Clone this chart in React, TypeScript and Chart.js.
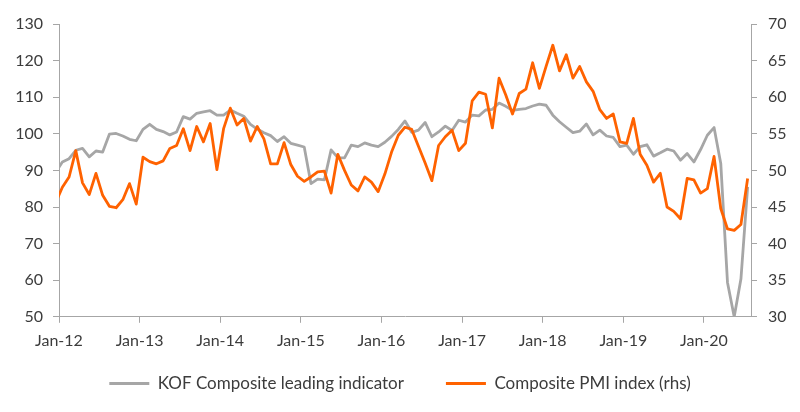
import { useEffect, useRef } from 'react';
import Chart from 'chart.js/auto';

// Monthly categories; Dec-11 sits just outside the visible range so the line enters from the axis
const months = [
  'Dec-11',
  'Jan-12', 'Feb-12', 'Mar-12', 'Apr-12', 'May-12', 'Jun-12', 'Jul-12', 'Aug-12', 'Sep-12', 'Oct-12', 'Nov-12', 'Dec-12',
  'Jan-13', 'Feb-13', 'Mar-13', 'Apr-13', 'May-13', 'Jun-13', 'Jul-13', 'Aug-13', 'Sep-13', 'Oct-13', 'Nov-13', 'Dec-13',
  'Jan-14', 'Feb-14', 'Mar-14', 'Apr-14', 'May-14', 'Jun-14', 'Jul-14', 'Aug-14', 'Sep-14', 'Oct-14', 'Nov-14', 'Dec-14',
  'Jan-15', 'Feb-15', 'Mar-15', 'Apr-15', 'May-15', 'Jun-15', 'Jul-15', 'Aug-15', 'Sep-15', 'Oct-15', 'Nov-15', 'Dec-15',
  'Jan-16', 'Feb-16', 'Mar-16', 'Apr-16', 'May-16', 'Jun-16', 'Jul-16', 'Aug-16', 'Sep-16', 'Oct-16', 'Nov-16', 'Dec-16',
  'Jan-17', 'Feb-17', 'Mar-17', 'Apr-17', 'May-17', 'Jun-17', 'Jul-17', 'Aug-17', 'Sep-17', 'Oct-17', 'Nov-17', 'Dec-17',
  'Jan-18', 'Feb-18', 'Mar-18', 'Apr-18', 'May-18', 'Jun-18', 'Jul-18', 'Aug-18', 'Sep-18', 'Oct-18', 'Nov-18', 'Dec-18',
  'Jan-19', 'Feb-19', 'Mar-19', 'Apr-19', 'May-19', 'Jun-19', 'Jul-19', 'Aug-19', 'Sep-19', 'Oct-19', 'Nov-19', 'Dec-19',
  'Jan-20', 'Feb-20', 'Mar-20', 'Apr-20', 'May-20', 'Jun-20', 'Jul-20',
];

// KOF Composite leading indicator (left axis)
const kofIndicator = [
  89.5,
  92.3, 93.2, 95.5, 96.0, 93.7, 95.3, 95.0, 99.9, 100.1, 99.4, 98.5, 98.1,
  101.2, 102.6, 101.2, 100.6, 99.7, 100.5, 104.7, 104.0, 105.6, 106.0, 106.3, 105.1,
  105.1, 106.5, 105.6, 104.8, 102.6, 101.3, 100.3, 99.5, 97.9, 99.2, 97.4, 96.9,
  96.4, 86.4, 87.6, 87.4, 95.6, 93.5, 93.4, 96.9, 96.5, 97.5, 96.9, 96.5,
  97.7, 99.3, 101.2, 103.5, 100.4, 101.0, 103.1, 99.2, 100.5, 102.1, 100.9, 103.7,
  103.2, 105.1, 104.9, 106.5, 106.7, 108.4, 107.5, 106.4, 106.7, 106.9, 107.6, 108.1,
  107.8, 105.1, 103.3, 101.8, 100.3, 100.7, 102.7, 99.7, 101.0, 99.4, 99.0, 96.5,
  96.9, 94.4, 96.5, 97.0, 93.9, 94.8, 95.8, 95.3, 92.8, 94.6, 92.3, 95.7,
  99.6, 101.7, 91.9, 59.4, 50.0, 60.3, 85.5,
];

// Composite PMI index (right axis)
const compositePmi = [
  45.6,
  47.7, 49.1, 52.7, 48.3, 46.7, 49.6, 46.6, 45.1, 44.9, 46.0, 48.2, 45.4,
  51.8, 51.2, 50.9, 51.3, 53.0, 53.4, 55.7, 52.7, 56.0, 53.9, 56.4, 50.1,
  55.7, 58.5, 56.2, 57.1, 54.0, 56.0, 54.3, 50.9, 50.9, 53.8, 50.8, 49.2,
  48.5, 49.1, 49.8, 49.9, 46.9, 52.2, 50.0, 48.0, 47.2, 49.1, 48.4, 47.1,
  49.5, 52.5, 54.8, 55.9, 55.6, 53.3, 51.0, 48.6, 53.4, 54.6, 55.5, 52.7,
  53.7, 59.5, 60.7, 60.4, 55.8, 62.6, 60.3, 57.7, 60.5, 61.1, 64.7, 61.2,
  64.2, 67.1, 63.6, 65.8, 62.6, 64.2, 62.1, 60.8, 58.3, 57.1, 57.7, 53.9,
  53.7, 57.1, 52.2, 50.7, 48.4, 49.6, 45.0, 44.4, 43.4, 48.9, 48.7, 46.9,
  47.5, 51.9, 44.8, 42.0, 41.8, 42.6, 48.9,
];

const leftAxis = { min: 50, max: 130, step: 10 };
const rightAxis = { min: 30, max: 70, step: 5 };

const textColor = '#3c3c3c';
const axisColor = '#a6a6a6';
const kofColor = '#a6a6a6';
const pmiColor = '#ff6200';

// the legend keeps its wide item gap but sits closer to the axis labels
const LEGEND_SHRINK = 18;
const LEGEND_LIFT = 25;
const legendNudge = {
  id: 'legendNudge',
  afterInit(chart: any) {
    const legend = chart.legend;
    if (!legend) return;
    const fit = legend.fit.bind(legend);
    legend.fit = () => {
      fit();
      legend.height -= LEGEND_SHRINK;
    };
  },
  afterLayout(chart: any) {
    const legend = chart.legend;
    if (!legend) return;
    // move only the top so the legend's clip box still holds the items
    legend.top -= LEGEND_LIFT;
    legend.height += LEGEND_LIFT;
  },
};

const App: React.FC = () => {
  const canvasRef = useRef<HTMLCanvasElement>(null);

  useEffect(() => {
    document.body.style.margin = '0';
    if (!canvasRef.current) return;

    Chart.defaults.font.family = 'Lato';
    Chart.defaults.font.size = 16;
    Chart.defaults.color = textColor;

    const isJan = (value: number) => months[value] !== undefined && months[value].startsWith('Jan');

    const chart = new Chart(canvasRef.current, {
      type: 'line',
      data: {
        labels: months,
        datasets: [
          {
            label: 'KOF Composite leading indicator',
            data: kofIndicator,
            yAxisID: 'y',
            borderColor: kofColor,
            backgroundColor: kofColor,
            borderWidth: 2.8,
            pointRadius: 0,
            tension: 0,
            borderJoinStyle: 'round',
            order: 2,
          },
          {
            label: 'Composite PMI index (rhs)',
            data: compositePmi,
            yAxisID: 'y1',
            borderColor: pmiColor,
            backgroundColor: pmiColor,
            borderWidth: 2.8,
            pointRadius: 0,
            tension: 0,
            borderJoinStyle: 'round',
            order: 1,
          },
        ],
      },
      options: {
        animation: false,
        responsive: true,
        maintainAspectRatio: false,
        layout: { padding: { top: 24, bottom: 3, left: 0, right: 0 } },
        plugins: {
          legend: {
            position: 'bottom',
            labels: {
              usePointStyle: true,
              pointStyle: 'line',
              pointStyleWidth: 40,
              padding: 42,
              color: textColor,
              font: { size: 17 },
              sort: (a, b) => (a.datasetIndex ?? 0) - (b.datasetIndex ?? 0),
            },
          },
          tooltip: { enabled: false },
        },
        scales: {
          x: {
            type: 'category',
            min: 'Jan-12',
            offset: true,
            border: { color: axisColor, width: 1 },
            grid: {
              offset: true,
              drawOnChartArea: false,
              tickLength: 6,
              color: (ctx) => (ctx.tick && isJan(ctx.tick.value as number) ? axisColor : 'rgba(0,0,0,0)'),
            },
            ticks: {
              autoSkip: false,
              maxRotation: 0,
              minRotation: 0,
              padding: 8,
              labelOffset: -3.4,
              callback: (value) => (isJan(value as number) ? months[value as number] : ''),
            },
          },
          y: {
            position: 'left',
            min: leftAxis.min,
            max: leftAxis.max,
            afterFit: (scale) => {
              scale.width = 59;
            },
            border: { color: axisColor, width: 1 },
            grid: { drawOnChartArea: false, tickLength: 6, color: axisColor },
            ticks: { stepSize: leftAxis.step, padding: 10 },
          },
          y1: {
            position: 'right',
            min: rightAxis.min,
            max: rightAxis.max,
            afterFit: (scale) => {
              scale.width = 49;
            },
            border: { color: axisColor, width: 1 },
            grid: { drawOnChartArea: false, tickLength: 6, color: axisColor },
            ticks: { stepSize: rightAxis.step, padding: 11 },
          },
        },
      },
      plugins: [legendNudge],
    });

    return () => {
      chart.destroy();
    };
  }, []);

  return (
    <div style={{ position: 'relative', width: 800, height: 412 }}>
      <canvas ref={canvasRef}></canvas>
    </div>
  );
};

export default App;
